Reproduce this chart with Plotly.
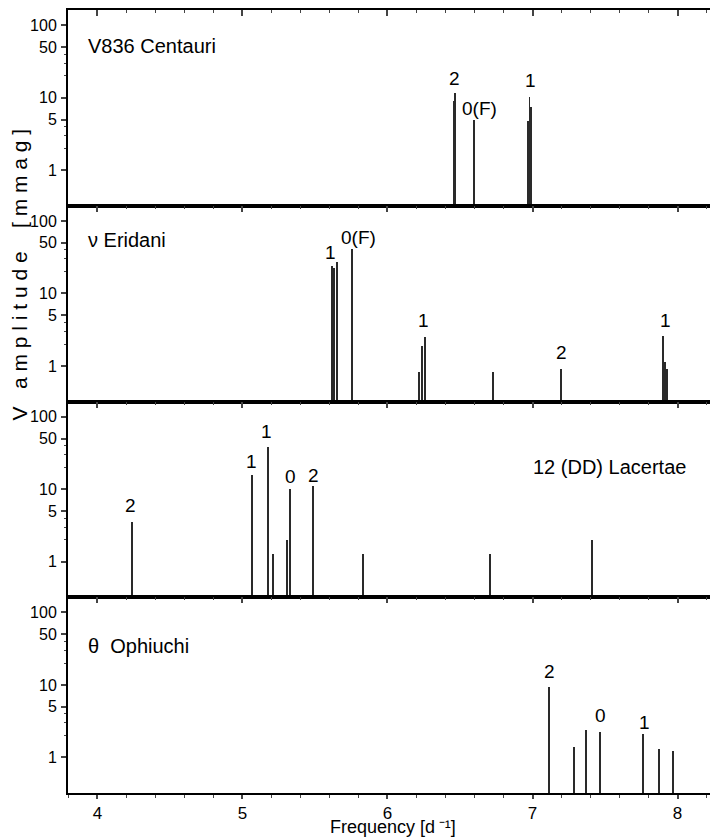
import math
import plotly.graph_objects as go

# ---------------- data ----------------
star_names = ["V836 Centauri", "\u03bd Eridani", "12 (DD) Lacertae", "\u03b8  Ophiuchi"]

freq_v836 = [6.459, 6.468, 6.596, 6.968, 6.979, 6.988]
amp_v836 = [9.0, 11.7, 4.9, 4.75, 10.2, 7.5]

freq_nuEri = [5.617, 5.633, 5.650, 5.757, 6.219, 6.238, 6.261, 6.730, 7.199, 7.900, 7.912, 7.926]
amp_nuEri = [24.5, 22.5, 27.5, 41.6, 0.83, 1.93, 2.57, 0.83, 0.92, 2.65, 1.13, 0.92]

freq_12Lac = [4.236, 5.063, 5.174, 5.210, 5.305, 5.330, 5.486, 5.833, 6.706, 7.408]
amp_12Lac = [3.64, 16.2, 38.6, 1.31, 2.04, 10.2, 11.3, 1.31, 1.31, 2.04]

freq_thOph = [7.116, 7.286, 7.369, 7.466, 7.764, 7.872, 7.971]
amp_thOph = [9.24, 1.37, 2.36, 2.26, 2.06, 1.28, 1.2]

# mode labels (text, frequency, amplitude level of label centre)
lab_text_v836 = ["2", "0(F)", "1"]
lab_x_v836 = [6.459, 6.631, 6.983]
lab_y_v836 = [18.3, 7.0, 17.1]

lab_text_nuEri = ["1", "0(F)", "1", "2", "1"]
lab_x_nuEri = [5.610, 5.803, 6.245, 7.203, 7.914]
lab_y_nuEri = [37.3, 59.0, 4.27, 1.55, 4.27]

lab_text_12Lac = ["2", "1", "1", "0", "2"]
lab_x_12Lac = [4.229, 5.063, 5.167, 5.330, 5.488]
lab_y_12Lac = [6.0, 24.3, 62.1, 15.1, 15.3]

lab_text_thOph = ["2", "0", "1"]
lab_x_thOph = [7.117, 7.466, 7.772]
lab_y_thOph = [15.3, 3.76, 3.04]

major_y = [1, 5, 10, 50, 100]
minor_y = [2, 3, 4, 20, 30, 40]
x_ticks = [4, 5, 6, 7, 8]

panels = [
    (freq_v836, amp_v836, lab_text_v836, lab_x_v836, lab_y_v836),
    (freq_nuEri, amp_nuEri, lab_text_nuEri, lab_x_nuEri, lab_y_nuEri),
    (freq_12Lac, amp_12Lac, lab_text_12Lac, lab_x_12Lac, lab_y_12Lac),
    (freq_thOph, amp_thOph, lab_text_thOph, lab_x_thOph, lab_y_thOph),
]

# ---------------- figure ----------------
# the page body has an 8px margin, so the figure is 710x831 placed at (8, 8)
FONT = "Liberation Sans, Arial, Helvetica, sans-serif"
XR = [3.797, 8.279]
YR = [-0.49, 2.21]
n = 4
fig = go.Figure()
layout = dict(
    width=710, height=831,
    margin=dict(l=60, r=0, t=2, b=46),
    paper_bgcolor="white", plot_bgcolor="white",
    showlegend=False,
    font=dict(family=FONT, size=15, color="black"),
    bargap=0,
)
annotations = []

for p in range(1, n + 1):
    fr, am, lt, lx, ly = panels[p - 1]
    dom = [1 - p / n, 1 - (p - 1) / n]
    xs = "" if p == 1 else str(p)
    ys = "" if p == 1 else str(p)
    # sticks
    fig.add_trace(go.Bar(
        x=fr, y=am, width=0.006,
        marker=dict(color="#2a2a2a", line=dict(width=0)),
        xaxis="x" + xs, yaxis="y" + ys, hoverinfo="x+y",
    ))
    # invisible helper trace for top/right axes
    fig.add_trace(go.Scatter(
        x=fr, y=am, mode="markers", marker=dict(opacity=0),
        xaxis="x" + str(n + p), yaxis="y" + str(n + p), hoverinfo="skip",
    ))
    bottom = (p == n)
    layout["xaxis" + xs] = dict(
        domain=[0, 1], anchor="y" + ys, range=XR,
        showline=True, linewidth=2, linecolor="black",
        showgrid=False, zeroline=False,
        ticks="outside" if bottom else "", ticklen=4, tickwidth=1.5,
        tickvals=x_ticks, showticklabels=bottom,
        tickfont=dict(size=17),
        minor=dict(dtick=0.2, ticks="outside" if bottom else "", ticklen=3, tickwidth=1),
    )
    if p != 1:
        layout["xaxis" + xs]["matches"] = "x"
    layout["yaxis" + ys] = dict(
        domain=dom, anchor="x" + xs, type="log", range=YR,
        showline=True, linewidth=2, linecolor="black",
        showgrid=False, zeroline=False,
        ticks="outside", ticklen=5, tickwidth=1.5,
        tickvals=major_y, ticktext=[str(v) for v in major_y],
        tickfont=dict(size=16), ticklabelstandoff=1,
        minor=dict(tickvals=minor_y, ticks="outside", ticklen=2, tickwidth=1),
    )
    # top axis (ticks inside)
    layout["xaxis" + str(n + p)] = dict(
        overlaying="x" + xs, side="top", anchor="y" + str(n + p), range=XR,
        showline=True, linewidth=2, linecolor="black",
        showgrid=False, zeroline=False,
        ticks="inside", ticklen=6, tickwidth=1.5,
        tickvals=x_ticks, showticklabels=False,
        minor=dict(dtick=0.2, ticks="inside", ticklen=3, tickwidth=1),
    )
    # right axis (ticks inside, no line)
    layout["yaxis" + str(n + p)] = dict(
        overlaying="y" + ys, side="right", anchor="x" + str(n + p), type="log", range=YR,
        showline=False, showgrid=False, zeroline=False,
        ticks="inside", ticklen=5, tickwidth=1.5,
        tickvals=major_y, showticklabels=False,
        minor=dict(tickvals=minor_y, ticks="inside", ticklen=2, tickwidth=1, tickcolor="#999"),
    )
    # mode labels
    for t, x, y in zip(lt, lx, ly):
        annotations.append(dict(
            text=t, x=x, y=math.log10(y), xref="x" + xs, yref="y" + ys,
            showarrow=False, xanchor="center", yanchor="middle",
            font=dict(size=19, family=FONT),
        ))

# star names
name_pos = [
    (0.028, 0.816, "left"),
    (0.028, 0.825, "left"),
    (0.954, 0.665, "right"),
    (0.028, 0.751, "left"),
]
for p, (nm, (ax, ay, anc)) in enumerate(zip(star_names, name_pos), start=1):
    s = "" if p == 1 else str(p)
    annotations.append(dict(
        text=nm, x=ax, y=ay, xref="x" + s + " domain", yref="y" + s + " domain",
        showarrow=False, xanchor=anc, yanchor="middle",
        font=dict(size=20, family=FONT),
    ))

# x axis title, at the very bottom of the figure
annotations.append(dict(
    text="Frequency [d\u2009\u207b\u00b9]",
    x=0.5, y=-46 / 783, xref="paper", yref="paper",
    xanchor="center", yanchor="bottom", showarrow=False,
    font=dict(size=18, family=FONT),
))

# y axis title (non-breaking spaces keep the letter spacing)
NB = "\u00a0"
ytitle = ("V" + NB * 3 + NB.join("amplitude") + NB * 4 + NB.join("[mmag]"))
annotations.append(dict(
    text=ytitle,
    x=-0.076, y=1 - (275 - 10) / 783, xref="paper", yref="paper",
    xanchor="center", yanchor="middle", textangle=-90, showarrow=False,
    font=dict(size=21, family=FONT),
))
layout["annotations"] = annotations
fig.update_layout(**layout)

fig.write_html("out.html")
